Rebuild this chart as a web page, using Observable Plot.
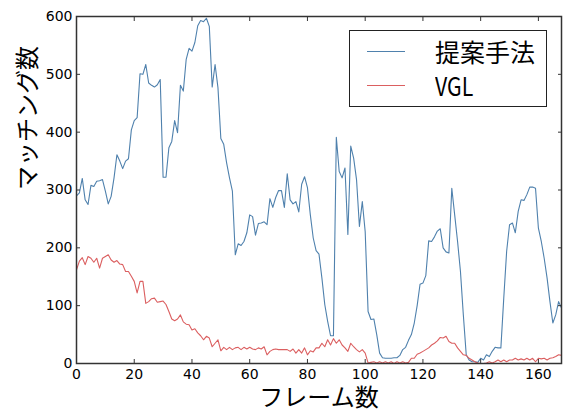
<!DOCTYPE html>
<html>
<head>
<meta charset="utf-8">
<script src="https://cdn.jsdelivr.net/npm/d3@7"></script>
<script src="https://cdn.jsdelivr.net/npm/@observablehq/plot@0.6"></script>
<style>
  html, body { margin: 0; padding: 0; background: #fff; }
  #wrap { position: relative; width: 563px; height: 412px; }
  #wrap svg { display: block; }
  #legend {
    position: absolute; left: 349px; top: 30px; width: 196px; height: 75px;
    border: 1.5px solid #222; background: #fff; box-sizing: content-box;
    font-family: "Noto Sans CJK JP", sans-serif; font-size: 25px; color: #000;
  }
  .row { position: absolute; left: 0; height: 30px; display: flex; align-items: center; }
  .sw { width: 38px; height: 0; margin-left: 17px; margin-right: 30px; }
  .narrow { display: inline-block; transform: scaleX(0.85); transform-origin: left center; }
</style>
</head>
<body>
<div id="wrap"></div>
<script>
// x categories: frame numbers
const frames = d3.range(169);
const xTicks = [0, 20, 40, 60, 80, 100, 120, 140, 160];
const yTicks = [0, 100, 200, 300, 400, 500, 600];
const seriesNames = ["提案手法", "VGL"];
const seriesColors = ["#4f81ad", "#db5f60"];
const xLabel = "フレーム数";
const yLabel = "マッチング数";

// 提案手法 (proposed method)
const proposed = [
  290, 295, 320, 283, 275, 308, 306, 315, 316, 318,
  298, 276, 289, 321, 361, 350, 337, 350, 354, 404,
  420, 425, 501, 500, 517, 485, 481, 478, 482, 491,
  322, 322, 373, 384, 420, 399, 481, 471, 526, 545,
  540, 555, 584, 593, 591, 597, 583, 478, 517, 477,
  389, 379, 347, 321, 298, 188, 207, 204, 211, 226,
  257, 254, 222, 242, 243, 245, 240, 285, 270, 287,
  299, 299, 270, 328, 283, 276, 280, 262, 310, 323,
  304, 257, 217, 195, 189, 148, 102, 73, 48, 48,
  391, 332, 321, 338, 223, 376, 355, 318, 237, 280,
  228, 90, 76, 77, 50, 18, 10, 9, 9, 9,
  10, 10, 14, 24, 28, 40, 50, 70, 100, 137,
  139, 152, 212, 211, 219, 229, 233, 200, 193, 191,
  303, 257, 211, 159, 84, 15, 6, 3, 3, 2,
  9, 6, 15, 12, 21, 28, 27, 27, 113, 194,
  240, 243, 226, 263, 283, 282, 292, 305, 305, 303,
  234, 211, 182, 148, 107, 70, 84, 107, 96
];

// VGL
const vgl = [
  162, 177, 183, 171, 185, 182, 175, 182, 165, 182,
  185, 188, 179, 175, 178, 172, 171, 159, 159, 151,
  142, 122, 142, 142, 104, 107, 112, 113, 106, 107,
  108, 102, 90, 77, 74, 77, 84, 72, 68, 67,
  58, 60, 53, 48, 41, 47, 44, 29, 35, 41,
  22, 28, 24, 28, 24, 27, 28, 24, 28, 25,
  28, 25, 24, 27, 25, 29, 15, 21, 24, 25,
  24, 24, 24, 24, 21, 25, 18, 24, 18, 27,
  15, 22, 20, 27, 27, 35, 29, 41, 32, 43,
  35, 41, 32, 27, 21, 35, 29, 24, 20, 24,
  18, 1, 2, 3, 1, 3, 1, 3, 1, 3,
  0, 3, 1, 3, 1, 2, 9, 9, 16, 18,
  21, 24, 27, 32, 35, 39, 45, 44, 47, 38,
  35, 35, 27, 21, 15, 14, 9, 6, 3, 1,
  0, 0, 1, 3, 1, 3, 6, 3, 6, 3,
  6, 6, 9, 6, 8, 6, 9, 6, 9, 3,
  9, 8, 9, 6, 9, 10, 12, 15, 14
];

const series = [proposed, vgl];
const rows = series.flatMap((vals, s) =>
  frames.map((f, i) => ({frame: f, value: vals[i], name: seriesNames[s]})));

const tickFont = {fontSize: 14, fill: "#000"};

const chart = Plot.plot({
  width: 563,
  height: 412,
  marginLeft: 76,
  marginRight: 2,
  marginTop: 16,
  marginBottom: 49,
  style: {fontFamily: "DejaVu Sans, sans-serif", background: "#fff", overflow: "visible"},
  x: {domain: [0, 168], ticks: xTicks, label: null},
  y: {domain: [0, 600], ticks: yTicks, label: null},
  color: {domain: seriesNames, range: seriesColors},
  marks: [
    Plot.line(rows, {x: "frame", y: "value", z: "name", stroke: "name", strokeWidth: 1.1}),
    Plot.frame({stroke: "#333", strokeWidth: 1.5}),
    Plot.axisX(xTicks, {anchor: "bottom", tickSize: -4, tickPadding: 10, stroke: "#333", ...tickFont, label: null}),
    Plot.axisX(xTicks, {anchor: "top", tickSize: -4, tickFormat: () => "", stroke: "#333", label: null}),
    Plot.axisY(yTicks, {anchor: "left", tickSize: -4, tickPadding: 8, stroke: "#333", ...tickFont, label: null}),
    Plot.axisY(yTicks, {anchor: "right", tickSize: -4, tickFormat: () => "", stroke: "#333", label: null}),
    Plot.text([xLabel], {text: d => d, frameAnchor: "bottom", dy: 35, lineAnchor: "middle",
      fontSize: 24, fontFamily: "Noto Sans CJK JP", fill: "#000"}),
    Plot.text([yLabel], {text: d => d, frameAnchor: "left", dx: -48, rotate: -90, lineAnchor: "middle",
      fontSize: 24, fontFamily: "Noto Sans CJK JP", fill: "#000"})
  ]
});

const wrap = document.getElementById("wrap");
wrap.appendChild(chart);

// legend
const legend = document.createElement("div");
legend.id = "legend";
seriesNames.forEach((name, i) => {
  const row = document.createElement("div");
  row.className = "row";
  row.style.top = (i === 0 ? 5 : 39) + "px";
  const sw = document.createElement("div");
  sw.className = "sw";
  sw.style.borderTop = "1.2px solid " + seriesColors[i];
  const tx = document.createElement("span");
  tx.textContent = name;
  if (i === 1) tx.className = "narrow";
  row.appendChild(sw);
  row.appendChild(tx);
  legend.appendChild(row);
});
wrap.appendChild(legend);
</script>
</body>
</html>
